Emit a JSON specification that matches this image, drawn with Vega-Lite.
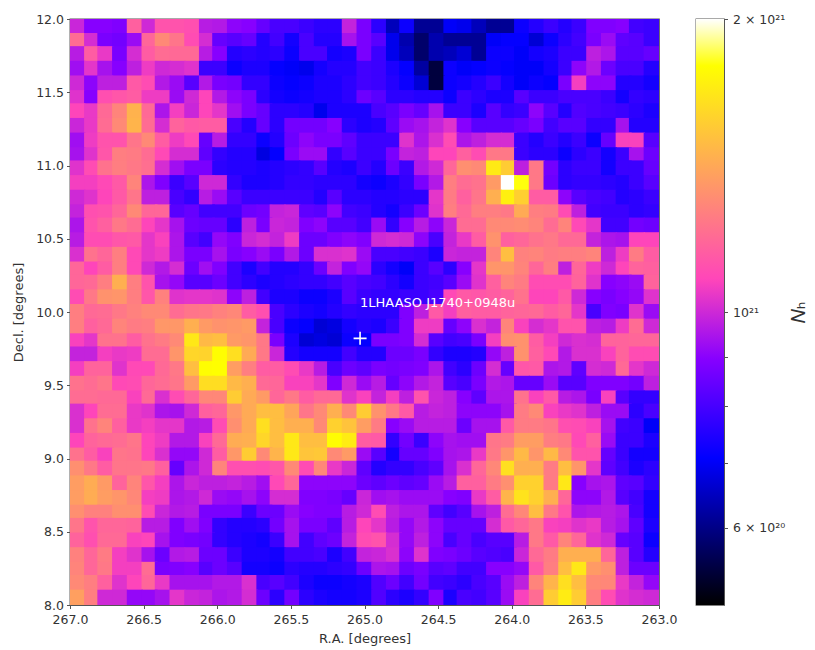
{"$schema":"https://vega.github.io/schema/vega-lite/v6.json","padding":{"left":12,"top":12,"right":0,"bottom":0},"background":"white","spacing":17,"config":{"font":"DejaVu Sans","view":{"stroke":"#555","strokeWidth":1.3},"axis":{"labelFont":"DejaVu Sans","titleFont":"DejaVu Sans","labelFontSize":12.5,"titleFontSize":13,"labelColor":"#333","titleColor":"#333","tickColor":"#555","domainColor":"#555","tickSize":3.5,"grid":false,"titleFontWeight":"normal","labelFlush":false,"labelOverlap":false}},"hconcat":[{"width":589,"height":586,"layer":[{"data":{"values":[
{"ra":266.95,"de":11.95,"n":9.8},{"ra":266.85,"de":11.95,"n":8.7},{"ra":266.76,"de":11.95,"n":8.7},{"ra":266.66,"de":11.95,"n":8.6},{"ra":266.56,"de":11.95,"n":11.6},{"ra":266.46,"de":11.95,"n":9.9},{"ra":266.37,"de":11.95,"n":11.2},{"ra":266.27,"de":11.95,"n":11.2},{"ra":266.17,"de":11.95,"n":11.1},{"ra":266.07,"de":11.95,"n":9.5},{"ra":265.98,"de":11.95,"n":9.4},{"ra":265.88,"de":11.95,"n":8.8},{"ra":265.78,"de":11.95,"n":8.7},{"ra":265.68,"de":11.95,"n":8.2},{"ra":265.59,"de":11.95,"n":7.8},{"ra":265.49,"de":11.95,"n":7.8},{"ra":265.39,"de":11.95,"n":7.6},{"ra":265.29,"de":11.95,"n":7.4},{"ra":265.2,"de":11.95,"n":7.4},{"ra":265.1,"de":11.95,"n":9.7},{"ra":265,"de":11.95,"n":8.5},{"ra":264.9,"de":11.95,"n":7.4},{"ra":264.8,"de":11.95,"n":6.3},{"ra":264.71,"de":11.95,"n":7},{"ra":264.61,"de":11.95,"n":6},{"ra":264.51,"de":11.95,"n":6},{"ra":264.41,"de":11.95,"n":6.8},{"ra":264.32,"de":11.95,"n":6.7},{"ra":264.22,"de":11.95,"n":6.3},{"ra":264.12,"de":11.95,"n":6},{"ra":264.02,"de":11.95,"n":6},{"ra":263.93,"de":11.95,"n":7},{"ra":263.83,"de":11.95,"n":7.3},{"ra":263.73,"de":11.95,"n":7.6},{"ra":263.63,"de":11.95,"n":7.3},{"ra":263.54,"de":11.95,"n":7.6},{"ra":263.44,"de":11.95,"n":8.6},{"ra":263.34,"de":11.95,"n":8.6},{"ra":263.24,"de":11.95,"n":8.7},{"ra":263.15,"de":11.95,"n":7.7},{"ra":263.05,"de":11.95,"n":7.6},
{"ra":266.95,"de":11.85,"n":12},{"ra":266.85,"de":11.85,"n":10},{"ra":266.76,"de":11.85,"n":8.5},{"ra":266.66,"de":11.85,"n":8.4},{"ra":266.56,"de":11.85,"n":9},{"ra":266.46,"de":11.85,"n":11.8},{"ra":266.37,"de":11.85,"n":13},{"ra":266.27,"de":11.85,"n":12.3},{"ra":266.17,"de":11.85,"n":11},{"ra":266.07,"de":11.85,"n":10},{"ra":265.98,"de":11.85,"n":8.2},{"ra":265.88,"de":11.85,"n":8},{"ra":265.78,"de":11.85,"n":8.2},{"ra":265.68,"de":11.85,"n":7.3},{"ra":265.59,"de":11.85,"n":7.7},{"ra":265.49,"de":11.85,"n":7.1},{"ra":265.39,"de":11.85,"n":7.8},{"ra":265.29,"de":11.85,"n":7.3},{"ra":265.2,"de":11.85,"n":7.3},{"ra":265.1,"de":11.85,"n":9.2},{"ra":265,"de":11.85,"n":8.5},{"ra":264.9,"de":11.85,"n":8},{"ra":264.8,"de":11.85,"n":6.7},{"ra":264.71,"de":11.85,"n":6.2},{"ra":264.61,"de":11.85,"n":5.7},{"ra":264.51,"de":11.85,"n":6.2},{"ra":264.41,"de":11.85,"n":6},{"ra":264.32,"de":11.85,"n":6},{"ra":264.22,"de":11.85,"n":6},{"ra":264.12,"de":11.85,"n":6.8},{"ra":264.02,"de":11.85,"n":6.9},{"ra":263.93,"de":11.85,"n":6.9},{"ra":263.83,"de":11.85,"n":6.5},{"ra":263.73,"de":11.85,"n":7},{"ra":263.63,"de":11.85,"n":7.4},{"ra":263.54,"de":11.85,"n":7.7},{"ra":263.44,"de":11.85,"n":8.5},{"ra":263.34,"de":11.85,"n":9},{"ra":263.24,"de":11.85,"n":8.1},{"ra":263.15,"de":11.85,"n":8},{"ra":263.05,"de":11.85,"n":7.6},
{"ra":266.95,"de":11.76,"n":9.5},{"ra":266.85,"de":11.76,"n":11.5},{"ra":266.76,"de":11.76,"n":10.4},{"ra":266.66,"de":11.76,"n":8.5},{"ra":266.56,"de":11.76,"n":10},{"ra":266.46,"de":11.76,"n":11.5},{"ra":266.37,"de":11.76,"n":12},{"ra":266.27,"de":11.76,"n":11.9},{"ra":266.17,"de":11.76,"n":11.9},{"ra":266.07,"de":11.76,"n":9.5},{"ra":265.98,"de":11.76,"n":8.7},{"ra":265.88,"de":11.76,"n":7.3},{"ra":265.78,"de":11.76,"n":7.4},{"ra":265.68,"de":11.76,"n":7.3},{"ra":265.59,"de":11.76,"n":7.4},{"ra":265.49,"de":11.76,"n":7},{"ra":265.39,"de":11.76,"n":7.8},{"ra":265.29,"de":11.76,"n":7.8},{"ra":265.2,"de":11.76,"n":7.1},{"ra":265.1,"de":11.76,"n":7.2},{"ra":265,"de":11.76,"n":8.5},{"ra":264.9,"de":11.76,"n":7.6},{"ra":264.8,"de":11.76,"n":6.7},{"ra":264.71,"de":11.76,"n":6.3},{"ra":264.61,"de":11.76,"n":5.7},{"ra":264.51,"de":11.76,"n":6.2},{"ra":264.41,"de":11.76,"n":6.3},{"ra":264.32,"de":11.76,"n":6.5},{"ra":264.22,"de":11.76,"n":6},{"ra":264.12,"de":11.76,"n":7},{"ra":264.02,"de":11.76,"n":7},{"ra":263.93,"de":11.76,"n":6.8},{"ra":263.83,"de":11.76,"n":7.1},{"ra":263.73,"de":11.76,"n":7.2},{"ra":263.63,"de":11.76,"n":7.6},{"ra":263.54,"de":11.76,"n":7.6},{"ra":263.44,"de":11.76,"n":9.6},{"ra":263.34,"de":11.76,"n":9.3},{"ra":263.24,"de":11.76,"n":8},{"ra":263.15,"de":11.76,"n":8},{"ra":263.05,"de":11.76,"n":8.2},
{"ra":266.95,"de":11.66,"n":9.1},{"ra":266.85,"de":11.66,"n":10.3},{"ra":266.76,"de":11.66,"n":9.2},{"ra":266.66,"de":11.66,"n":8.7},{"ra":266.56,"de":11.66,"n":9.6},{"ra":266.46,"de":11.66,"n":10.5},{"ra":266.37,"de":11.66,"n":9.9},{"ra":266.27,"de":11.66,"n":10},{"ra":266.17,"de":11.66,"n":10.2},{"ra":266.07,"de":11.66,"n":7.6},{"ra":265.98,"de":11.66,"n":7.6},{"ra":265.88,"de":11.66,"n":7},{"ra":265.78,"de":11.66,"n":7.2},{"ra":265.68,"de":11.66,"n":7.2},{"ra":265.59,"de":11.66,"n":6.9},{"ra":265.49,"de":11.66,"n":6.8},{"ra":265.39,"de":11.66,"n":6.7},{"ra":265.29,"de":11.66,"n":7.1},{"ra":265.2,"de":11.66,"n":7.3},{"ra":265.1,"de":11.66,"n":7.3},{"ra":265,"de":11.66,"n":7.7},{"ra":264.9,"de":11.66,"n":7.6},{"ra":264.8,"de":11.66,"n":7.2},{"ra":264.71,"de":11.66,"n":6.9},{"ra":264.61,"de":11.66,"n":6.1},{"ra":264.51,"de":11.66,"n":5.4},{"ra":264.41,"de":11.66,"n":7},{"ra":264.32,"de":11.66,"n":6.8},{"ra":264.22,"de":11.66,"n":6.9},{"ra":264.12,"de":11.66,"n":7},{"ra":264.02,"de":11.66,"n":6.9},{"ra":263.93,"de":11.66,"n":6.8},{"ra":263.83,"de":11.66,"n":6.8},{"ra":263.73,"de":11.66,"n":7.1},{"ra":263.63,"de":11.66,"n":7.6},{"ra":263.54,"de":11.66,"n":8.8},{"ra":263.44,"de":11.66,"n":9.4},{"ra":263.34,"de":11.66,"n":8.3},{"ra":263.24,"de":11.66,"n":7.8},{"ra":263.15,"de":11.66,"n":7.8},{"ra":263.05,"de":11.66,"n":7.3},
{"ra":266.95,"de":11.56,"n":9.9},{"ra":266.85,"de":11.56,"n":8.8},{"ra":266.76,"de":11.56,"n":9.6},{"ra":266.66,"de":11.56,"n":9.6},{"ra":266.56,"de":11.56,"n":11.4},{"ra":266.46,"de":11.56,"n":11},{"ra":266.37,"de":11.56,"n":9.4},{"ra":266.27,"de":11.56,"n":9},{"ra":266.17,"de":11.56,"n":8},{"ra":266.07,"de":11.56,"n":9.4},{"ra":265.98,"de":11.56,"n":8.5},{"ra":265.88,"de":11.56,"n":8.4},{"ra":265.78,"de":11.56,"n":7.5},{"ra":265.68,"de":11.56,"n":7.5},{"ra":265.59,"de":11.56,"n":7},{"ra":265.49,"de":11.56,"n":6.9},{"ra":265.39,"de":11.56,"n":7},{"ra":265.29,"de":11.56,"n":7.2},{"ra":265.2,"de":11.56,"n":7.2},{"ra":265.1,"de":11.56,"n":7.4},{"ra":265,"de":11.56,"n":7.7},{"ra":264.9,"de":11.56,"n":7.6},{"ra":264.8,"de":11.56,"n":7.3},{"ra":264.71,"de":11.56,"n":7},{"ra":264.61,"de":11.56,"n":6.5},{"ra":264.51,"de":11.56,"n":5.4},{"ra":264.41,"de":11.56,"n":7},{"ra":264.32,"de":11.56,"n":7.1},{"ra":264.22,"de":11.56,"n":7.3},{"ra":264.12,"de":11.56,"n":7.6},{"ra":264.02,"de":11.56,"n":7.1},{"ra":263.93,"de":11.56,"n":6.8},{"ra":263.83,"de":11.56,"n":7},{"ra":263.73,"de":11.56,"n":6.9},{"ra":263.63,"de":11.56,"n":8.5},{"ra":263.54,"de":11.56,"n":10.6},{"ra":263.44,"de":11.56,"n":8.8},{"ra":263.34,"de":11.56,"n":8.8},{"ra":263.24,"de":11.56,"n":7.3},{"ra":263.15,"de":11.56,"n":7.3},{"ra":263.05,"de":11.56,"n":7.1},
{"ra":266.95,"de":11.46,"n":10.2},{"ra":266.85,"de":11.46,"n":8.7},{"ra":266.76,"de":11.46,"n":11.1},{"ra":266.66,"de":11.46,"n":11.3},{"ra":266.56,"de":11.46,"n":11.5},{"ra":266.46,"de":11.46,"n":10.5},{"ra":266.37,"de":11.46,"n":10.5},{"ra":266.27,"de":11.46,"n":9},{"ra":266.17,"de":11.46,"n":9.9},{"ra":266.07,"de":11.46,"n":10.8},{"ra":265.98,"de":11.46,"n":9.4},{"ra":265.88,"de":11.46,"n":8.8},{"ra":265.78,"de":11.46,"n":8.5},{"ra":265.68,"de":11.46,"n":7.4},{"ra":265.59,"de":11.46,"n":7.1},{"ra":265.49,"de":11.46,"n":7},{"ra":265.39,"de":11.46,"n":7.1},{"ra":265.29,"de":11.46,"n":7.2},{"ra":265.2,"de":11.46,"n":7.2},{"ra":265.1,"de":11.46,"n":7.4},{"ra":265,"de":11.46,"n":8.3},{"ra":264.9,"de":11.46,"n":8},{"ra":264.8,"de":11.46,"n":7.4},{"ra":264.71,"de":11.46,"n":7.4},{"ra":264.61,"de":11.46,"n":7.3},{"ra":264.51,"de":11.46,"n":7.3},{"ra":264.41,"de":11.46,"n":7},{"ra":264.32,"de":11.46,"n":7.6},{"ra":264.22,"de":11.46,"n":7.4},{"ra":264.12,"de":11.46,"n":7.2},{"ra":264.02,"de":11.46,"n":7.2},{"ra":263.93,"de":11.46,"n":8},{"ra":263.83,"de":11.46,"n":7.6},{"ra":263.73,"de":11.46,"n":7.6},{"ra":263.63,"de":11.46,"n":7.8},{"ra":263.54,"de":11.46,"n":7.8},{"ra":263.44,"de":11.46,"n":7.8},{"ra":263.34,"de":11.46,"n":7.6},{"ra":263.24,"de":11.46,"n":7.1},{"ra":263.15,"de":11.46,"n":7.5},{"ra":263.05,"de":11.46,"n":7.4},
{"ra":266.95,"de":11.37,"n":10.8},{"ra":266.85,"de":11.37,"n":10.4},{"ra":266.76,"de":11.37,"n":11.9},{"ra":266.66,"de":11.37,"n":12.8},{"ra":266.56,"de":11.37,"n":14.5},{"ra":266.46,"de":11.37,"n":11.9},{"ra":266.37,"de":11.37,"n":9.3},{"ra":266.27,"de":11.37,"n":10.6},{"ra":266.17,"de":11.37,"n":9.8},{"ra":266.07,"de":11.37,"n":10.8},{"ra":265.98,"de":11.37,"n":10.3},{"ra":265.88,"de":11.37,"n":9.1},{"ra":265.78,"de":11.37,"n":8.5},{"ra":265.68,"de":11.37,"n":8.2},{"ra":265.59,"de":11.37,"n":7.4},{"ra":265.49,"de":11.37,"n":7.4},{"ra":265.39,"de":11.37,"n":7.3},{"ra":265.29,"de":11.37,"n":6.7},{"ra":265.2,"de":11.37,"n":7.2},{"ra":265.1,"de":11.37,"n":7.2},{"ra":265,"de":11.37,"n":7.2},{"ra":264.9,"de":11.37,"n":7.8},{"ra":264.8,"de":11.37,"n":8},{"ra":264.71,"de":11.37,"n":8.5},{"ra":264.61,"de":11.37,"n":8.2},{"ra":264.51,"de":11.37,"n":9.2},{"ra":264.41,"de":11.37,"n":7.6},{"ra":264.32,"de":11.37,"n":7.6},{"ra":264.22,"de":11.37,"n":7.2},{"ra":264.12,"de":11.37,"n":8},{"ra":264.02,"de":11.37,"n":7.5},{"ra":263.93,"de":11.37,"n":7.6},{"ra":263.83,"de":11.37,"n":8.8},{"ra":263.73,"de":11.37,"n":8},{"ra":263.63,"de":11.37,"n":7.3},{"ra":263.54,"de":11.37,"n":7.9},{"ra":263.44,"de":11.37,"n":7.8},{"ra":263.34,"de":11.37,"n":7.7},{"ra":263.24,"de":11.37,"n":7.6},{"ra":263.15,"de":11.37,"n":7.4},{"ra":263.05,"de":11.37,"n":7.2},
{"ra":266.95,"de":11.27,"n":9.8},{"ra":266.85,"de":11.27,"n":10.4},{"ra":266.76,"de":11.27,"n":12},{"ra":266.66,"de":11.27,"n":13},{"ra":266.56,"de":11.27,"n":14.6},{"ra":266.46,"de":11.27,"n":12},{"ra":266.37,"de":11.27,"n":10},{"ra":266.27,"de":11.27,"n":11.7},{"ra":266.17,"de":11.27,"n":11.4},{"ra":266.07,"de":11.27,"n":11.5},{"ra":265.98,"de":11.27,"n":11.5},{"ra":265.88,"de":11.27,"n":7.8},{"ra":265.78,"de":11.27,"n":7.3},{"ra":265.68,"de":11.27,"n":8.2},{"ra":265.59,"de":11.27,"n":7.4},{"ra":265.49,"de":11.27,"n":8.4},{"ra":265.39,"de":11.27,"n":8.4},{"ra":265.29,"de":11.27,"n":8.4},{"ra":265.2,"de":11.27,"n":8.7},{"ra":265.1,"de":11.27,"n":7.4},{"ra":265,"de":11.27,"n":7.2},{"ra":264.9,"de":11.27,"n":7.3},{"ra":264.8,"de":11.27,"n":8.1},{"ra":264.71,"de":11.27,"n":9},{"ra":264.61,"de":11.27,"n":9.2},{"ra":264.51,"de":11.27,"n":9.7},{"ra":264.41,"de":11.27,"n":10.2},{"ra":264.32,"de":11.27,"n":8.7},{"ra":264.22,"de":11.27,"n":8},{"ra":264.12,"de":11.27,"n":8},{"ra":264.02,"de":11.27,"n":8},{"ra":263.93,"de":11.27,"n":8.2},{"ra":263.83,"de":11.27,"n":8.5},{"ra":263.73,"de":11.27,"n":7.7},{"ra":263.63,"de":11.27,"n":8},{"ra":263.54,"de":11.27,"n":8},{"ra":263.44,"de":11.27,"n":7.5},{"ra":263.34,"de":11.27,"n":7.5},{"ra":263.24,"de":11.27,"n":9.2},{"ra":263.15,"de":11.27,"n":7.3},{"ra":263.05,"de":11.27,"n":7.3},
{"ra":266.95,"de":11.17,"n":9.1},{"ra":266.85,"de":11.17,"n":10.5},{"ra":266.76,"de":11.17,"n":11.2},{"ra":266.66,"de":11.17,"n":11.2},{"ra":266.56,"de":11.17,"n":12.3},{"ra":266.46,"de":11.17,"n":13},{"ra":266.37,"de":11.17,"n":11.5},{"ra":266.27,"de":11.17,"n":10.5},{"ra":266.17,"de":11.17,"n":10.9},{"ra":266.07,"de":11.17,"n":8.2},{"ra":265.98,"de":11.17,"n":9.5},{"ra":265.88,"de":11.17,"n":7.5},{"ra":265.78,"de":11.17,"n":7.5},{"ra":265.68,"de":11.17,"n":7},{"ra":265.59,"de":11.17,"n":7.3},{"ra":265.49,"de":11.17,"n":8.3},{"ra":265.39,"de":11.17,"n":8.8},{"ra":265.29,"de":11.17,"n":8.5},{"ra":265.2,"de":11.17,"n":8.5},{"ra":265.1,"de":11.17,"n":8.1},{"ra":265,"de":11.17,"n":7.6},{"ra":264.9,"de":11.17,"n":7.6},{"ra":264.8,"de":11.17,"n":7.6},{"ra":264.71,"de":11.17,"n":10.2},{"ra":264.61,"de":11.17,"n":9.3},{"ra":264.51,"de":11.17,"n":10.1},{"ra":264.41,"de":11.17,"n":11},{"ra":264.32,"de":11.17,"n":9.3},{"ra":264.22,"de":11.17,"n":9.6},{"ra":264.12,"de":11.17,"n":10},{"ra":264.02,"de":11.17,"n":10},{"ra":263.93,"de":11.17,"n":7.6},{"ra":263.83,"de":11.17,"n":7.3},{"ra":263.73,"de":11.17,"n":7.6},{"ra":263.63,"de":11.17,"n":7.3},{"ra":263.54,"de":11.17,"n":7.6},{"ra":263.44,"de":11.17,"n":7},{"ra":263.34,"de":11.17,"n":8.2},{"ra":263.24,"de":11.17,"n":10.7},{"ra":263.15,"de":11.17,"n":10.7},{"ra":263.05,"de":11.17,"n":8},
{"ra":266.95,"de":11.07,"n":9.2},{"ra":266.85,"de":11.07,"n":10.2},{"ra":266.76,"de":11.07,"n":11.3},{"ra":266.66,"de":11.07,"n":12.6},{"ra":266.56,"de":11.07,"n":12.5},{"ra":266.46,"de":11.07,"n":12},{"ra":266.37,"de":11.07,"n":10.9},{"ra":266.27,"de":11.07,"n":10},{"ra":266.17,"de":11.07,"n":10},{"ra":266.07,"de":11.07,"n":8.1},{"ra":265.98,"de":11.07,"n":7.5},{"ra":265.88,"de":11.07,"n":7.3},{"ra":265.78,"de":11.07,"n":7.3},{"ra":265.68,"de":11.07,"n":6.6},{"ra":265.59,"de":11.07,"n":6.9},{"ra":265.49,"de":11.07,"n":8.5},{"ra":265.39,"de":11.07,"n":9},{"ra":265.29,"de":11.07,"n":9},{"ra":265.2,"de":11.07,"n":7.5},{"ra":265.1,"de":11.07,"n":8},{"ra":265,"de":11.07,"n":7.6},{"ra":264.9,"de":11.07,"n":7.6},{"ra":264.8,"de":11.07,"n":8.5},{"ra":264.71,"de":11.07,"n":9.7},{"ra":264.61,"de":11.07,"n":9.6},{"ra":264.51,"de":11.07,"n":10.8},{"ra":264.41,"de":11.07,"n":10.8},{"ra":264.32,"de":11.07,"n":11.6},{"ra":264.22,"de":11.07,"n":11},{"ra":264.12,"de":11.07,"n":12.4},{"ra":264.02,"de":11.07,"n":12.4},{"ra":263.93,"de":11.07,"n":7.6},{"ra":263.83,"de":11.07,"n":7.4},{"ra":263.73,"de":11.07,"n":7.4},{"ra":263.63,"de":11.07,"n":7},{"ra":263.54,"de":11.07,"n":7.4},{"ra":263.44,"de":11.07,"n":7.6},{"ra":263.34,"de":11.07,"n":7.1},{"ra":263.24,"de":11.07,"n":7.6},{"ra":263.15,"de":11.07,"n":9.2},{"ra":263.05,"de":11.07,"n":8.3},
{"ra":266.95,"de":10.98,"n":10.2},{"ra":266.85,"de":10.98,"n":11},{"ra":266.76,"de":10.98,"n":12.2},{"ra":266.66,"de":10.98,"n":12.6},{"ra":266.56,"de":10.98,"n":12.4},{"ra":266.46,"de":10.98,"n":12.1},{"ra":266.37,"de":10.98,"n":10},{"ra":266.27,"de":10.98,"n":9.1},{"ra":266.17,"de":10.98,"n":8.5},{"ra":266.07,"de":10.98,"n":8.5},{"ra":265.98,"de":10.98,"n":7.4},{"ra":265.88,"de":10.98,"n":7.3},{"ra":265.78,"de":10.98,"n":7.3},{"ra":265.68,"de":10.98,"n":7.2},{"ra":265.59,"de":10.98,"n":7.3},{"ra":265.49,"de":10.98,"n":7.4},{"ra":265.39,"de":10.98,"n":7.5},{"ra":265.29,"de":10.98,"n":8},{"ra":265.2,"de":10.98,"n":7.3},{"ra":265.1,"de":10.98,"n":7.2},{"ra":265,"de":10.98,"n":7.6},{"ra":264.9,"de":10.98,"n":7.3},{"ra":264.8,"de":10.98,"n":8.3},{"ra":264.71,"de":10.98,"n":7.6},{"ra":264.61,"de":10.98,"n":9.4},{"ra":264.51,"de":10.98,"n":9.9},{"ra":264.41,"de":10.98,"n":11.8},{"ra":264.32,"de":10.98,"n":13.2},{"ra":264.22,"de":10.98,"n":13},{"ra":264.12,"de":10.98,"n":16.9},{"ra":264.02,"de":10.98,"n":15.6},{"ra":263.93,"de":10.98,"n":9.6},{"ra":263.83,"de":10.98,"n":12.4},{"ra":263.73,"de":10.98,"n":8.4},{"ra":263.63,"de":10.98,"n":7.4},{"ra":263.54,"de":10.98,"n":7.6},{"ra":263.44,"de":10.98,"n":7.6},{"ra":263.34,"de":10.98,"n":7.1},{"ra":263.24,"de":10.98,"n":7.6},{"ra":263.15,"de":10.98,"n":7.6},{"ra":263.05,"de":10.98,"n":8.2},
{"ra":266.95,"de":10.88,"n":10.6},{"ra":266.85,"de":10.88,"n":10.6},{"ra":266.76,"de":10.88,"n":10.9},{"ra":266.66,"de":10.88,"n":11.4},{"ra":266.56,"de":10.88,"n":12.8},{"ra":266.46,"de":10.88,"n":9.3},{"ra":266.37,"de":10.88,"n":8.6},{"ra":266.27,"de":10.88,"n":7.6},{"ra":266.17,"de":10.88,"n":8},{"ra":266.07,"de":10.88,"n":9.9},{"ra":265.98,"de":10.88,"n":9.9},{"ra":265.88,"de":10.88,"n":7.5},{"ra":265.78,"de":10.88,"n":7.2},{"ra":265.68,"de":10.88,"n":7.2},{"ra":265.59,"de":10.88,"n":7.3},{"ra":265.49,"de":10.88,"n":7.5},{"ra":265.39,"de":10.88,"n":7.5},{"ra":265.29,"de":10.88,"n":7.4},{"ra":265.2,"de":10.88,"n":7.4},{"ra":265.1,"de":10.88,"n":7.4},{"ra":265,"de":10.88,"n":7.1},{"ra":264.9,"de":10.88,"n":7},{"ra":264.8,"de":10.88,"n":7.2},{"ra":264.71,"de":10.88,"n":7.5},{"ra":264.61,"de":10.88,"n":8.5},{"ra":264.51,"de":10.88,"n":9.4},{"ra":264.41,"de":10.88,"n":12.6},{"ra":264.32,"de":10.88,"n":12},{"ra":264.22,"de":10.88,"n":12.2},{"ra":264.12,"de":10.88,"n":13.6},{"ra":264.02,"de":10.88,"n":20},{"ra":263.93,"de":10.88,"n":18},{"ra":263.83,"de":10.88,"n":12.4},{"ra":263.73,"de":10.88,"n":8.3},{"ra":263.63,"de":10.88,"n":7.4},{"ra":263.54,"de":10.88,"n":7.5},{"ra":263.44,"de":10.88,"n":7.5},{"ra":263.34,"de":10.88,"n":7.4},{"ra":263.24,"de":10.88,"n":7.3},{"ra":263.15,"de":10.88,"n":7.6},{"ra":263.05,"de":10.88,"n":8},
{"ra":266.95,"de":10.78,"n":9.9},{"ra":266.85,"de":10.78,"n":10.2},{"ra":266.76,"de":10.78,"n":10.8},{"ra":266.66,"de":10.78,"n":11.4},{"ra":266.56,"de":10.78,"n":12.3},{"ra":266.46,"de":10.78,"n":9.6},{"ra":266.37,"de":10.78,"n":9.6},{"ra":266.27,"de":10.78,"n":7.8},{"ra":266.17,"de":10.78,"n":7.5},{"ra":266.07,"de":10.78,"n":9.5},{"ra":265.98,"de":10.78,"n":9},{"ra":265.88,"de":10.78,"n":8},{"ra":265.78,"de":10.78,"n":7.6},{"ra":265.68,"de":10.78,"n":7.6},{"ra":265.59,"de":10.78,"n":7.6},{"ra":265.49,"de":10.78,"n":7.6},{"ra":265.39,"de":10.78,"n":7.6},{"ra":265.29,"de":10.78,"n":7.3},{"ra":265.2,"de":10.78,"n":8},{"ra":265.1,"de":10.78,"n":7.4},{"ra":265,"de":10.78,"n":7.4},{"ra":264.9,"de":10.78,"n":7.3},{"ra":264.8,"de":10.78,"n":7.3},{"ra":264.71,"de":10.78,"n":7.4},{"ra":264.61,"de":10.78,"n":7.4},{"ra":264.51,"de":10.78,"n":10.3},{"ra":264.41,"de":10.78,"n":12.5},{"ra":264.32,"de":10.78,"n":11.6},{"ra":264.22,"de":10.78,"n":12.3},{"ra":264.12,"de":10.78,"n":14.4},{"ra":264.02,"de":10.78,"n":17.2},{"ra":263.93,"de":10.78,"n":15.7},{"ra":263.83,"de":10.78,"n":11.5},{"ra":263.73,"de":10.78,"n":11.5},{"ra":263.63,"de":10.78,"n":8.8},{"ra":263.54,"de":10.78,"n":8},{"ra":263.44,"de":10.78,"n":7.8},{"ra":263.34,"de":10.78,"n":7.7},{"ra":263.24,"de":10.78,"n":7.3},{"ra":263.15,"de":10.78,"n":7.4},{"ra":263.05,"de":10.78,"n":7.6},
{"ra":266.95,"de":10.68,"n":9.7},{"ra":266.85,"de":10.68,"n":11.1},{"ra":266.76,"de":10.68,"n":11.2},{"ra":266.66,"de":10.68,"n":11.8},{"ra":266.56,"de":10.68,"n":13},{"ra":266.46,"de":10.68,"n":11.8},{"ra":266.37,"de":10.68,"n":11.8},{"ra":266.27,"de":10.68,"n":8},{"ra":266.17,"de":10.68,"n":8.2},{"ra":266.07,"de":10.68,"n":7.7},{"ra":265.98,"de":10.68,"n":7.7},{"ra":265.88,"de":10.68,"n":7.7},{"ra":265.78,"de":10.68,"n":8.3},{"ra":265.68,"de":10.68,"n":8.4},{"ra":265.59,"de":10.68,"n":9.7},{"ra":265.49,"de":10.68,"n":9.8},{"ra":265.39,"de":10.68,"n":8.1},{"ra":265.29,"de":10.68,"n":8},{"ra":265.2,"de":10.68,"n":8.8},{"ra":265.1,"de":10.68,"n":7.7},{"ra":265,"de":10.68,"n":7.6},{"ra":264.9,"de":10.68,"n":7.3},{"ra":264.8,"de":10.68,"n":7.1},{"ra":264.71,"de":10.68,"n":7.6},{"ra":264.61,"de":10.68,"n":8.3},{"ra":264.51,"de":10.68,"n":10.2},{"ra":264.41,"de":10.68,"n":12.6},{"ra":264.32,"de":10.68,"n":11.9},{"ra":264.22,"de":10.68,"n":12.6},{"ra":264.12,"de":10.68,"n":12.6},{"ra":264.02,"de":10.68,"n":12.4},{"ra":263.93,"de":10.68,"n":14.2},{"ra":263.83,"de":10.68,"n":12.6},{"ra":263.73,"de":10.68,"n":12.5},{"ra":263.63,"de":10.68,"n":11},{"ra":263.54,"de":10.68,"n":9.6},{"ra":263.44,"de":10.68,"n":7.7},{"ra":263.34,"de":10.68,"n":7.6},{"ra":263.24,"de":10.68,"n":7.6},{"ra":263.15,"de":10.68,"n":7.4},{"ra":263.05,"de":10.68,"n":7.5},
{"ra":266.95,"de":10.59,"n":9.3},{"ra":266.85,"de":10.59,"n":11.2},{"ra":266.76,"de":10.59,"n":11.6},{"ra":266.66,"de":10.59,"n":12.4},{"ra":266.56,"de":10.59,"n":12},{"ra":266.46,"de":10.59,"n":10.8},{"ra":266.37,"de":10.59,"n":10.3},{"ra":266.27,"de":10.59,"n":9.2},{"ra":266.17,"de":10.59,"n":8.3},{"ra":266.07,"de":10.59,"n":8.2},{"ra":265.98,"de":10.59,"n":8.2},{"ra":265.88,"de":10.59,"n":7.4},{"ra":265.78,"de":10.59,"n":9.6},{"ra":265.68,"de":10.59,"n":8.5},{"ra":265.59,"de":10.59,"n":9.8},{"ra":265.49,"de":10.59,"n":9.7},{"ra":265.39,"de":10.59,"n":8.6},{"ra":265.29,"de":10.59,"n":8.8},{"ra":265.2,"de":10.59,"n":8},{"ra":265.1,"de":10.59,"n":8},{"ra":265,"de":10.59,"n":7.7},{"ra":264.9,"de":10.59,"n":9},{"ra":264.8,"de":10.59,"n":7.5},{"ra":264.71,"de":10.59,"n":8.7},{"ra":264.61,"de":10.59,"n":9.5},{"ra":264.51,"de":10.59,"n":8.8},{"ra":264.41,"de":10.59,"n":9.8},{"ra":264.32,"de":10.59,"n":12},{"ra":264.22,"de":10.59,"n":12},{"ra":264.12,"de":10.59,"n":13},{"ra":264.02,"de":10.59,"n":13},{"ra":263.93,"de":10.59,"n":13.1},{"ra":263.83,"de":10.59,"n":12.8},{"ra":263.73,"de":10.59,"n":12},{"ra":263.63,"de":10.59,"n":12.8},{"ra":263.54,"de":10.59,"n":10.9},{"ra":263.44,"de":10.59,"n":10.3},{"ra":263.34,"de":10.59,"n":7.7},{"ra":263.24,"de":10.59,"n":7.7},{"ra":263.15,"de":10.59,"n":8.4},{"ra":263.05,"de":10.59,"n":8.3},
{"ra":266.95,"de":10.49,"n":9.5},{"ra":266.85,"de":10.49,"n":11},{"ra":266.76,"de":10.49,"n":11},{"ra":266.66,"de":10.49,"n":11.3},{"ra":266.56,"de":10.49,"n":11.4},{"ra":266.46,"de":10.49,"n":10.3},{"ra":266.37,"de":10.49,"n":10.7},{"ra":266.27,"de":10.49,"n":9.3},{"ra":266.17,"de":10.49,"n":8},{"ra":266.07,"de":10.49,"n":7.7},{"ra":265.98,"de":10.49,"n":8.9},{"ra":265.88,"de":10.49,"n":8.6},{"ra":265.78,"de":10.49,"n":9.8},{"ra":265.68,"de":10.49,"n":10},{"ra":265.59,"de":10.49,"n":9.7},{"ra":265.49,"de":10.49,"n":10.5},{"ra":265.39,"de":10.49,"n":8.3},{"ra":265.29,"de":10.49,"n":8.3},{"ra":265.2,"de":10.49,"n":8.6},{"ra":265.1,"de":10.49,"n":8.8},{"ra":265,"de":10.49,"n":8.6},{"ra":264.9,"de":10.49,"n":9.9},{"ra":264.8,"de":10.49,"n":10},{"ra":264.71,"de":10.49,"n":9.9},{"ra":264.61,"de":10.49,"n":8.8},{"ra":264.51,"de":10.49,"n":7.8},{"ra":264.41,"de":10.49,"n":9.7},{"ra":264.32,"de":10.49,"n":10.4},{"ra":264.22,"de":10.49,"n":11.5},{"ra":264.12,"de":10.49,"n":13.3},{"ra":264.02,"de":10.49,"n":11.6},{"ra":263.93,"de":10.49,"n":11.8},{"ra":263.83,"de":10.49,"n":12.2},{"ra":263.73,"de":10.49,"n":12.4},{"ra":263.63,"de":10.49,"n":11.9},{"ra":263.54,"de":10.49,"n":11.9},{"ra":263.44,"de":10.49,"n":9.7},{"ra":263.34,"de":10.49,"n":9.3},{"ra":263.24,"de":10.49,"n":9.2},{"ra":263.15,"de":10.49,"n":10.8},{"ra":263.05,"de":10.49,"n":10.8},
{"ra":266.95,"de":10.39,"n":10.1},{"ra":266.85,"de":10.39,"n":12.2},{"ra":266.76,"de":10.39,"n":11.8},{"ra":266.66,"de":10.39,"n":12.6},{"ra":266.56,"de":10.39,"n":10.9},{"ra":266.46,"de":10.39,"n":10.3},{"ra":266.37,"de":10.39,"n":10.5},{"ra":266.27,"de":10.39,"n":9.3},{"ra":266.17,"de":10.39,"n":8.5},{"ra":266.07,"de":10.39,"n":8.5},{"ra":265.98,"de":10.39,"n":9.2},{"ra":265.88,"de":10.39,"n":8.5},{"ra":265.78,"de":10.39,"n":8.7},{"ra":265.68,"de":10.39,"n":9},{"ra":265.59,"de":10.39,"n":8.5},{"ra":265.49,"de":10.39,"n":9.4},{"ra":265.39,"de":10.39,"n":8.3},{"ra":265.29,"de":10.39,"n":10.1},{"ra":265.2,"de":10.39,"n":10.1},{"ra":265.1,"de":10.39,"n":10.2},{"ra":265,"de":10.39,"n":9},{"ra":264.9,"de":10.39,"n":7.8},{"ra":264.8,"de":10.39,"n":7.8},{"ra":264.71,"de":10.39,"n":7.7},{"ra":264.61,"de":10.39,"n":7.6},{"ra":264.51,"de":10.39,"n":7.2},{"ra":264.41,"de":10.39,"n":9.8},{"ra":264.32,"de":10.39,"n":9.7},{"ra":264.22,"de":10.39,"n":9.7},{"ra":264.12,"de":10.39,"n":12.8},{"ra":264.02,"de":10.39,"n":15},{"ra":263.93,"de":10.39,"n":12.7},{"ra":263.83,"de":10.39,"n":12.8},{"ra":263.73,"de":10.39,"n":12.5},{"ra":263.63,"de":10.39,"n":12.6},{"ra":263.54,"de":10.39,"n":12.6},{"ra":263.44,"de":10.39,"n":12.8},{"ra":263.34,"de":10.39,"n":9.6},{"ra":263.24,"de":10.39,"n":10.5},{"ra":263.15,"de":10.39,"n":12.5},{"ra":263.05,"de":10.39,"n":11.5},
{"ra":266.95,"de":10.29,"n":11.8},{"ra":266.85,"de":10.29,"n":10.8},{"ra":266.76,"de":10.29,"n":11.5},{"ra":266.66,"de":10.29,"n":12.6},{"ra":266.56,"de":10.29,"n":10.9},{"ra":266.46,"de":10.29,"n":9.9},{"ra":266.37,"de":10.29,"n":9.4},{"ra":266.27,"de":10.29,"n":10},{"ra":266.17,"de":10.29,"n":8.3},{"ra":266.07,"de":10.29,"n":9.1},{"ra":265.98,"de":10.29,"n":8.6},{"ra":265.88,"de":10.29,"n":7.7},{"ra":265.78,"de":10.29,"n":7.2},{"ra":265.68,"de":10.29,"n":7.7},{"ra":265.59,"de":10.29,"n":7.3},{"ra":265.49,"de":10.29,"n":7.3},{"ra":265.39,"de":10.29,"n":7.5},{"ra":265.29,"de":10.29,"n":8.3},{"ra":265.2,"de":10.29,"n":9.7},{"ra":265.1,"de":10.29,"n":8.6},{"ra":265,"de":10.29,"n":8.9},{"ra":264.9,"de":10.29,"n":7.4},{"ra":264.8,"de":10.29,"n":7.1},{"ra":264.71,"de":10.29,"n":6.8},{"ra":264.61,"de":10.29,"n":7.6},{"ra":264.51,"de":10.29,"n":8},{"ra":264.41,"de":10.29,"n":7.4},{"ra":264.32,"de":10.29,"n":8.7},{"ra":264.22,"de":10.29,"n":10.3},{"ra":264.12,"de":10.29,"n":13.4},{"ra":264.02,"de":10.29,"n":13.4},{"ra":263.93,"de":10.29,"n":12.8},{"ra":263.83,"de":10.29,"n":11.8},{"ra":263.73,"de":10.29,"n":12.6},{"ra":263.63,"de":10.29,"n":9.6},{"ra":263.54,"de":10.29,"n":11.8},{"ra":263.44,"de":10.29,"n":10.5},{"ra":263.34,"de":10.29,"n":9.9},{"ra":263.24,"de":10.29,"n":10.8},{"ra":263.15,"de":10.29,"n":11.7},{"ra":263.05,"de":10.29,"n":11.6},
{"ra":266.95,"de":10.2,"n":11.8},{"ra":266.85,"de":10.2,"n":11.9},{"ra":266.76,"de":10.2,"n":12.6},{"ra":266.66,"de":10.2,"n":14.4},{"ra":266.56,"de":10.2,"n":12.6},{"ra":266.46,"de":10.2,"n":11.2},{"ra":266.37,"de":10.2,"n":9.2},{"ra":266.27,"de":10.2,"n":8.9},{"ra":266.17,"de":10.2,"n":8},{"ra":266.07,"de":10.2,"n":8},{"ra":265.98,"de":10.2,"n":8.3},{"ra":265.88,"de":10.2,"n":7.7},{"ra":265.78,"de":10.2,"n":7.4},{"ra":265.68,"de":10.2,"n":7.2},{"ra":265.59,"de":10.2,"n":7.3},{"ra":265.49,"de":10.2,"n":7.4},{"ra":265.39,"de":10.2,"n":7.5},{"ra":265.29,"de":10.2,"n":7.5},{"ra":265.2,"de":10.2,"n":7.7},{"ra":265.1,"de":10.2,"n":8},{"ra":265,"de":10.2,"n":7.8},{"ra":264.9,"de":10.2,"n":7.7},{"ra":264.8,"de":10.2,"n":7.4},{"ra":264.71,"de":10.2,"n":7.1},{"ra":264.61,"de":10.2,"n":7.6},{"ra":264.51,"de":10.2,"n":7.7},{"ra":264.41,"de":10.2,"n":8},{"ra":264.32,"de":10.2,"n":9},{"ra":264.22,"de":10.2,"n":10.2},{"ra":264.12,"de":10.2,"n":11.6},{"ra":264.02,"de":10.2,"n":12.8},{"ra":263.93,"de":10.2,"n":12.5},{"ra":263.83,"de":10.2,"n":11},{"ra":263.73,"de":10.2,"n":11},{"ra":263.63,"de":10.2,"n":11},{"ra":263.54,"de":10.2,"n":11.7},{"ra":263.44,"de":10.2,"n":10.2},{"ra":263.34,"de":10.2,"n":8.7},{"ra":263.24,"de":10.2,"n":8.8},{"ra":263.15,"de":10.2,"n":9},{"ra":263.05,"de":10.2,"n":11.7},
{"ra":266.95,"de":10.1,"n":11},{"ra":266.85,"de":10.1,"n":12.4},{"ra":266.76,"de":10.1,"n":13.3},{"ra":266.66,"de":10.1,"n":13.4},{"ra":266.56,"de":10.1,"n":12.6},{"ra":266.46,"de":10.1,"n":11.3},{"ra":266.37,"de":10.1,"n":12.7},{"ra":266.27,"de":10.1,"n":10.2},{"ra":266.17,"de":10.1,"n":10.3},{"ra":266.07,"de":10.1,"n":10.3},{"ra":265.98,"de":10.1,"n":10.2},{"ra":265.88,"de":10.1,"n":8.8},{"ra":265.78,"de":10.1,"n":9.6},{"ra":265.68,"de":10.1,"n":7.7},{"ra":265.59,"de":10.1,"n":7.2},{"ra":265.49,"de":10.1,"n":7.2},{"ra":265.39,"de":10.1,"n":7},{"ra":265.29,"de":10.1,"n":7},{"ra":265.2,"de":10.1,"n":7.2},{"ra":265.1,"de":10.1,"n":8},{"ra":265,"de":10.1,"n":7.6},{"ra":264.9,"de":10.1,"n":7.5},{"ra":264.8,"de":10.1,"n":7.5},{"ra":264.71,"de":10.1,"n":7.6},{"ra":264.61,"de":10.1,"n":7.6},{"ra":264.51,"de":10.1,"n":7.8},{"ra":264.41,"de":10.1,"n":10.9},{"ra":264.32,"de":10.1,"n":11.4},{"ra":264.22,"de":10.1,"n":11.3},{"ra":264.12,"de":10.1,"n":11.5},{"ra":264.02,"de":10.1,"n":11.7},{"ra":263.93,"de":10.1,"n":12.2},{"ra":263.83,"de":10.1,"n":10.8},{"ra":263.73,"de":10.1,"n":10.8},{"ra":263.63,"de":10.1,"n":11.4},{"ra":263.54,"de":10.1,"n":9.9},{"ra":263.44,"de":10.1,"n":8.7},{"ra":263.34,"de":10.1,"n":8.5},{"ra":263.24,"de":10.1,"n":8.7},{"ra":263.15,"de":10.1,"n":8.9},{"ra":263.05,"de":10.1,"n":10.2},
{"ra":266.95,"de":10,"n":12.6},{"ra":266.85,"de":10,"n":11.9},{"ra":266.76,"de":10,"n":12},{"ra":266.66,"de":10,"n":12.4},{"ra":266.56,"de":10,"n":12.7},{"ra":266.46,"de":10,"n":13},{"ra":266.37,"de":10,"n":13},{"ra":266.27,"de":10,"n":12},{"ra":266.17,"de":10,"n":12.3},{"ra":266.07,"de":10,"n":12.4},{"ra":265.98,"de":10,"n":12.7},{"ra":265.88,"de":10,"n":12.9},{"ra":265.78,"de":10,"n":11.5},{"ra":265.68,"de":10,"n":11.1},{"ra":265.59,"de":10,"n":7.8},{"ra":265.49,"de":10,"n":7.4},{"ra":265.39,"de":10,"n":7.2},{"ra":265.29,"de":10,"n":7.1},{"ra":265.2,"de":10,"n":7.3},{"ra":265.1,"de":10,"n":7.5},{"ra":265,"de":10,"n":7.4},{"ra":264.9,"de":10,"n":7.4},{"ra":264.8,"de":10,"n":7.4},{"ra":264.71,"de":10,"n":8.6},{"ra":264.61,"de":10,"n":9.6},{"ra":264.51,"de":10,"n":11.4},{"ra":264.41,"de":10,"n":10.6},{"ra":264.32,"de":10,"n":11.6},{"ra":264.22,"de":10,"n":11.5},{"ra":264.12,"de":10,"n":11.5},{"ra":264.02,"de":10,"n":11.7},{"ra":263.93,"de":10,"n":11.8},{"ra":263.83,"de":10,"n":11.9},{"ra":263.73,"de":10,"n":11.5},{"ra":263.63,"de":10,"n":11.8},{"ra":263.54,"de":10,"n":10.3},{"ra":263.44,"de":10,"n":7.8},{"ra":263.34,"de":10,"n":8.6},{"ra":263.24,"de":10,"n":8.5},{"ra":263.15,"de":10,"n":10.2},{"ra":263.05,"de":10,"n":9},
{"ra":266.95,"de":9.9,"n":12.6},{"ra":266.85,"de":9.9,"n":11.6},{"ra":266.76,"de":9.9,"n":11.9},{"ra":266.66,"de":9.9,"n":12.8},{"ra":266.56,"de":9.9,"n":12.5},{"ra":266.46,"de":9.9,"n":12.6},{"ra":266.37,"de":9.9,"n":13.5},{"ra":266.27,"de":9.9,"n":13.5},{"ra":266.17,"de":9.9,"n":14.4},{"ra":266.07,"de":9.9,"n":13.6},{"ra":265.98,"de":9.9,"n":13.3},{"ra":265.88,"de":9.9,"n":13.4},{"ra":265.78,"de":9.9,"n":13.6},{"ra":265.68,"de":9.9,"n":9.7},{"ra":265.59,"de":9.9,"n":7.8},{"ra":265.49,"de":9.9,"n":7},{"ra":265.39,"de":9.9,"n":6.9},{"ra":265.29,"de":9.9,"n":6.5},{"ra":265.2,"de":9.9,"n":6.6},{"ra":265.1,"de":9.9,"n":7.1},{"ra":265,"de":9.9,"n":7.3},{"ra":264.9,"de":9.9,"n":7.2},{"ra":264.8,"de":9.9,"n":7.6},{"ra":264.71,"de":9.9,"n":8.6},{"ra":264.61,"de":9.9,"n":10.5},{"ra":264.51,"de":9.9,"n":10.5},{"ra":264.41,"de":9.9,"n":8.2},{"ra":264.32,"de":9.9,"n":8.8},{"ra":264.22,"de":9.9,"n":10.1},{"ra":264.12,"de":9.9,"n":9.7},{"ra":264.02,"de":9.9,"n":12.8},{"ra":263.93,"de":9.9,"n":10.7},{"ra":263.83,"de":9.9,"n":10},{"ra":263.73,"de":9.9,"n":10.3},{"ra":263.63,"de":9.9,"n":11.2},{"ra":263.54,"de":9.9,"n":11.2},{"ra":263.44,"de":9.9,"n":9.6},{"ra":263.34,"de":9.9,"n":9.5},{"ra":263.24,"de":9.9,"n":10.5},{"ra":263.15,"de":9.9,"n":12},{"ra":263.05,"de":9.9,"n":9.9},
{"ra":266.95,"de":9.8,"n":10.7},{"ra":266.85,"de":9.8,"n":10.3},{"ra":266.76,"de":9.8,"n":12.2},{"ra":266.66,"de":9.8,"n":12.2},{"ra":266.56,"de":9.8,"n":11.5},{"ra":266.46,"de":9.8,"n":12.2},{"ra":266.37,"de":9.8,"n":12.5},{"ra":266.27,"de":9.8,"n":13},{"ra":266.17,"de":9.8,"n":16.8},{"ra":266.07,"de":9.8,"n":14.8},{"ra":265.98,"de":9.8,"n":15},{"ra":265.88,"de":9.8,"n":13.6},{"ra":265.78,"de":9.8,"n":13.4},{"ra":265.68,"de":9.8,"n":12.4},{"ra":265.59,"de":9.8,"n":8.5},{"ra":265.49,"de":9.8,"n":7.2},{"ra":265.39,"de":9.8,"n":6.5},{"ra":265.29,"de":9.8,"n":6.6},{"ra":265.2,"de":9.8,"n":6.5},{"ra":265.1,"de":9.8,"n":7},{"ra":265,"de":9.8,"n":6.9},{"ra":264.9,"de":9.8,"n":8.5},{"ra":264.8,"de":9.8,"n":8.5},{"ra":264.71,"de":9.8,"n":8.6},{"ra":264.61,"de":9.8,"n":10},{"ra":264.51,"de":9.8,"n":8},{"ra":264.41,"de":9.8,"n":7.7},{"ra":264.32,"de":9.8,"n":7.8},{"ra":264.22,"de":9.8,"n":8.5},{"ra":264.12,"de":9.8,"n":10.6},{"ra":264.02,"de":9.8,"n":13.2},{"ra":263.93,"de":9.8,"n":13.3},{"ra":263.83,"de":9.8,"n":11.5},{"ra":263.73,"de":9.8,"n":10.6},{"ra":263.63,"de":9.8,"n":9.9},{"ra":263.54,"de":9.8,"n":10.1},{"ra":263.44,"de":9.8,"n":10},{"ra":263.34,"de":9.8,"n":11.7},{"ra":263.24,"de":9.8,"n":11.7},{"ra":263.15,"de":9.8,"n":11.8},{"ra":263.05,"de":9.8,"n":11.8},
{"ra":266.95,"de":9.71,"n":9.7},{"ra":266.85,"de":9.71,"n":9.7},{"ra":266.76,"de":9.71,"n":10.6},{"ra":266.66,"de":9.71,"n":10.4},{"ra":266.56,"de":9.71,"n":10.5},{"ra":266.46,"de":9.71,"n":12},{"ra":266.37,"de":9.71,"n":12},{"ra":266.27,"de":9.71,"n":13.4},{"ra":266.17,"de":9.71,"n":16},{"ra":266.07,"de":9.71,"n":15.9},{"ra":265.98,"de":9.71,"n":17.8},{"ra":265.88,"de":9.71,"n":16.4},{"ra":265.78,"de":9.71,"n":14.2},{"ra":265.68,"de":9.71,"n":12.4},{"ra":265.59,"de":9.71,"n":9.8},{"ra":265.49,"de":9.71,"n":7.3},{"ra":265.39,"de":9.71,"n":7.1},{"ra":265.29,"de":9.71,"n":7.1},{"ra":265.2,"de":9.71,"n":7.1},{"ra":265.1,"de":9.71,"n":7.7},{"ra":265,"de":9.71,"n":7.3},{"ra":264.9,"de":9.71,"n":7.3},{"ra":264.8,"de":9.71,"n":8.3},{"ra":264.71,"de":9.71,"n":8.3},{"ra":264.61,"de":9.71,"n":8.5},{"ra":264.51,"de":9.71,"n":7.5},{"ra":264.41,"de":9.71,"n":7.2},{"ra":264.32,"de":9.71,"n":7.2},{"ra":264.22,"de":9.71,"n":7.3},{"ra":264.12,"de":9.71,"n":8.9},{"ra":264.02,"de":9.71,"n":9.6},{"ra":263.93,"de":9.71,"n":13.3},{"ra":263.83,"de":9.71,"n":11.6},{"ra":263.73,"de":9.71,"n":10.9},{"ra":263.63,"de":9.71,"n":9.4},{"ra":263.54,"de":9.71,"n":10.1},{"ra":263.44,"de":9.71,"n":10.1},{"ra":263.34,"de":9.71,"n":10.7},{"ra":263.24,"de":9.71,"n":11.7},{"ra":263.15,"de":9.71,"n":11},{"ra":263.05,"de":9.71,"n":11},
{"ra":266.95,"de":9.61,"n":10.6},{"ra":266.85,"de":9.61,"n":11.7},{"ra":266.76,"de":9.61,"n":11.7},{"ra":266.66,"de":9.61,"n":10.2},{"ra":266.56,"de":9.61,"n":10.9},{"ra":266.46,"de":9.61,"n":10.9},{"ra":266.37,"de":9.61,"n":11.9},{"ra":266.27,"de":9.61,"n":12.4},{"ra":266.17,"de":9.61,"n":15},{"ra":266.07,"de":9.61,"n":17.8},{"ra":265.98,"de":9.61,"n":17.9},{"ra":265.88,"de":9.61,"n":13.7},{"ra":265.78,"de":9.61,"n":12.6},{"ra":265.68,"de":9.61,"n":11.5},{"ra":265.59,"de":9.61,"n":11.5},{"ra":265.49,"de":9.61,"n":11},{"ra":265.39,"de":9.61,"n":10.4},{"ra":265.29,"de":9.61,"n":9.5},{"ra":265.2,"de":9.61,"n":7.8},{"ra":265.1,"de":9.61,"n":8.3},{"ra":265,"de":9.61,"n":8.1},{"ra":264.9,"de":9.61,"n":8.5},{"ra":264.8,"de":9.61,"n":8.4},{"ra":264.71,"de":9.61,"n":8.5},{"ra":264.61,"de":9.61,"n":8.6},{"ra":264.51,"de":9.61,"n":9.3},{"ra":264.41,"de":9.61,"n":7.7},{"ra":264.32,"de":9.61,"n":7.4},{"ra":264.22,"de":9.61,"n":8.3},{"ra":264.12,"de":9.61,"n":10},{"ra":264.02,"de":9.61,"n":8.2},{"ra":263.93,"de":9.61,"n":11.3},{"ra":263.83,"de":9.61,"n":11.4},{"ra":263.73,"de":9.61,"n":9.3},{"ra":263.63,"de":9.61,"n":9.4},{"ra":263.54,"de":9.61,"n":8.1},{"ra":263.44,"de":9.61,"n":10},{"ra":263.34,"de":9.61,"n":9.9},{"ra":263.24,"de":9.61,"n":11.9},{"ra":263.15,"de":9.61,"n":10.3},{"ra":263.05,"de":9.61,"n":9.9},
{"ra":266.95,"de":9.51,"n":12.2},{"ra":266.85,"de":9.51,"n":12},{"ra":266.76,"de":9.51,"n":12.3},{"ra":266.66,"de":9.51,"n":10.9},{"ra":266.56,"de":9.51,"n":11},{"ra":266.46,"de":9.51,"n":11.8},{"ra":266.37,"de":9.51,"n":12},{"ra":266.27,"de":9.51,"n":12.3},{"ra":266.17,"de":9.51,"n":13.6},{"ra":266.07,"de":9.51,"n":16.3},{"ra":265.98,"de":9.51,"n":16.3},{"ra":265.88,"de":9.51,"n":14.8},{"ra":265.78,"de":9.51,"n":14.4},{"ra":265.68,"de":9.51,"n":11.9},{"ra":265.59,"de":9.51,"n":11.8},{"ra":265.49,"de":9.51,"n":10.7},{"ra":265.39,"de":9.51,"n":10.7},{"ra":265.29,"de":9.51,"n":10.3},{"ra":265.2,"de":9.51,"n":8.6},{"ra":265.1,"de":9.51,"n":9.9},{"ra":265,"de":9.51,"n":9},{"ra":264.9,"de":9.51,"n":9.5},{"ra":264.8,"de":9.51,"n":8.2},{"ra":264.71,"de":9.51,"n":8.8},{"ra":264.61,"de":9.51,"n":9.4},{"ra":264.51,"de":9.51,"n":9.7},{"ra":264.41,"de":9.51,"n":8},{"ra":264.32,"de":9.51,"n":7.8},{"ra":264.22,"de":9.51,"n":8.5},{"ra":264.12,"de":9.51,"n":9.4},{"ra":264.02,"de":9.51,"n":9.3},{"ra":263.93,"de":9.51,"n":8.2},{"ra":263.83,"de":9.51,"n":8.2},{"ra":263.73,"de":9.51,"n":9},{"ra":263.63,"de":9.51,"n":8},{"ra":263.54,"de":9.51,"n":8},{"ra":263.44,"de":9.51,"n":8.6},{"ra":263.34,"de":9.51,"n":8.6},{"ra":263.24,"de":9.51,"n":8.6},{"ra":263.15,"de":9.51,"n":8.4},{"ra":263.05,"de":9.51,"n":9.6},
{"ra":266.95,"de":9.41,"n":12},{"ra":266.85,"de":9.41,"n":12},{"ra":266.76,"de":9.41,"n":11.9},{"ra":266.66,"de":9.41,"n":11.9},{"ra":266.56,"de":9.41,"n":10.7},{"ra":266.46,"de":9.41,"n":11.9},{"ra":266.37,"de":9.41,"n":10.1},{"ra":266.27,"de":9.41,"n":11},{"ra":266.17,"de":9.41,"n":11.8},{"ra":266.07,"de":9.41,"n":12.9},{"ra":265.98,"de":9.41,"n":12.9},{"ra":265.88,"de":9.41,"n":15.6},{"ra":265.78,"de":9.41,"n":14.2},{"ra":265.68,"de":9.41,"n":13.6},{"ra":265.59,"de":9.41,"n":11.8},{"ra":265.49,"de":9.41,"n":12.4},{"ra":265.39,"de":9.41,"n":11.5},{"ra":265.29,"de":9.41,"n":11.9},{"ra":265.2,"de":9.41,"n":11.9},{"ra":265.1,"de":9.41,"n":10.2},{"ra":265,"de":9.41,"n":10.7},{"ra":264.9,"de":9.41,"n":9.7},{"ra":264.8,"de":9.41,"n":10.6},{"ra":264.71,"de":9.41,"n":9.6},{"ra":264.61,"de":9.41,"n":11.2},{"ra":264.51,"de":9.41,"n":9.8},{"ra":264.41,"de":9.41,"n":9.6},{"ra":264.32,"de":9.41,"n":8.7},{"ra":264.22,"de":9.41,"n":8.1},{"ra":264.12,"de":9.41,"n":9.3},{"ra":264.02,"de":9.41,"n":9.3},{"ra":263.93,"de":9.41,"n":12.2},{"ra":263.83,"de":9.41,"n":10.7},{"ra":263.73,"de":9.41,"n":11.4},{"ra":263.63,"de":9.41,"n":9.5},{"ra":263.54,"de":9.41,"n":9.3},{"ra":263.44,"de":9.41,"n":8.5},{"ra":263.34,"de":9.41,"n":10.7},{"ra":263.24,"de":9.41,"n":8},{"ra":263.15,"de":9.41,"n":7.5},{"ra":263.05,"de":9.41,"n":7.5},
{"ra":266.95,"de":9.32,"n":10.1},{"ra":266.85,"de":9.32,"n":10.8},{"ra":266.76,"de":9.32,"n":12},{"ra":266.66,"de":9.32,"n":12},{"ra":266.56,"de":9.32,"n":10.4},{"ra":266.46,"de":9.32,"n":10.2},{"ra":266.37,"de":9.32,"n":9.3},{"ra":266.27,"de":9.32,"n":9.2},{"ra":266.17,"de":9.32,"n":9.9},{"ra":266.07,"de":9.32,"n":11.6},{"ra":265.98,"de":9.32,"n":11.8},{"ra":265.88,"de":9.32,"n":13.5},{"ra":265.78,"de":9.32,"n":14.2},{"ra":265.68,"de":9.32,"n":15},{"ra":265.59,"de":9.32,"n":15},{"ra":265.49,"de":9.32,"n":14},{"ra":265.39,"de":9.32,"n":12.3},{"ra":265.29,"de":9.32,"n":13},{"ra":265.2,"de":9.32,"n":14.4},{"ra":265.1,"de":9.32,"n":13},{"ra":265,"de":9.32,"n":15.6},{"ra":264.9,"de":9.32,"n":13.3},{"ra":264.8,"de":9.32,"n":12.4},{"ra":264.71,"de":9.32,"n":11.4},{"ra":264.61,"de":9.32,"n":9.5},{"ra":264.51,"de":9.32,"n":9.7},{"ra":264.41,"de":9.32,"n":9.6},{"ra":264.32,"de":9.32,"n":8.8},{"ra":264.22,"de":9.32,"n":8.8},{"ra":264.12,"de":9.32,"n":8.8},{"ra":264.02,"de":9.32,"n":9.2},{"ra":263.93,"de":9.32,"n":12.5},{"ra":263.83,"de":9.32,"n":13},{"ra":263.73,"de":9.32,"n":10.7},{"ra":263.63,"de":9.32,"n":10.4},{"ra":263.54,"de":9.32,"n":10.2},{"ra":263.44,"de":9.32,"n":9.6},{"ra":263.34,"de":9.32,"n":9},{"ra":263.24,"de":9.32,"n":9},{"ra":263.15,"de":9.32,"n":7.4},{"ra":263.05,"de":9.32,"n":7.8},
{"ra":266.95,"de":9.22,"n":10.1},{"ra":266.85,"de":9.22,"n":12.2},{"ra":266.76,"de":9.22,"n":12.8},{"ra":266.66,"de":9.22,"n":11.6},{"ra":266.56,"de":9.22,"n":10.4},{"ra":266.46,"de":9.22,"n":10.6},{"ra":266.37,"de":9.22,"n":10.3},{"ra":266.27,"de":9.22,"n":10.3},{"ra":266.17,"de":9.22,"n":9.4},{"ra":266.07,"de":9.22,"n":9.5},{"ra":265.98,"de":9.22,"n":11},{"ra":265.88,"de":9.22,"n":13.2},{"ra":265.78,"de":9.22,"n":14.2},{"ra":265.68,"de":9.22,"n":16.4},{"ra":265.59,"de":9.22,"n":15},{"ra":265.49,"de":9.22,"n":14.4},{"ra":265.39,"de":9.22,"n":14.4},{"ra":265.29,"de":9.22,"n":13},{"ra":265.2,"de":9.22,"n":15.8},{"ra":265.1,"de":9.22,"n":15.2},{"ra":265,"de":9.22,"n":13.7},{"ra":264.9,"de":9.22,"n":12.5},{"ra":264.8,"de":9.22,"n":8.7},{"ra":264.71,"de":9.22,"n":9},{"ra":264.61,"de":9.22,"n":9.5},{"ra":264.51,"de":9.22,"n":9.5},{"ra":264.41,"de":9.22,"n":9.5},{"ra":264.32,"de":9.22,"n":8.3},{"ra":264.22,"de":9.22,"n":9.2},{"ra":264.12,"de":9.22,"n":9.2},{"ra":264.02,"de":9.22,"n":11.4},{"ra":263.93,"de":9.22,"n":12.5},{"ra":263.83,"de":9.22,"n":12.5},{"ra":263.73,"de":9.22,"n":12.3},{"ra":263.63,"de":9.22,"n":11.1},{"ra":263.54,"de":9.22,"n":11},{"ra":263.44,"de":9.22,"n":10.7},{"ra":263.34,"de":9.22,"n":9.2},{"ra":263.24,"de":9.22,"n":7.7},{"ra":263.15,"de":9.22,"n":7.6},{"ra":263.05,"de":9.22,"n":6.8},
{"ra":266.95,"de":9.12,"n":10.8},{"ra":266.85,"de":9.12,"n":11.7},{"ra":266.76,"de":9.12,"n":11.9},{"ra":266.66,"de":9.12,"n":12},{"ra":266.56,"de":9.12,"n":12.3},{"ra":266.46,"de":9.12,"n":10.8},{"ra":266.37,"de":9.12,"n":10.5},{"ra":266.27,"de":9.12,"n":9.4},{"ra":266.17,"de":9.12,"n":9.4},{"ra":266.07,"de":9.12,"n":10.7},{"ra":265.98,"de":9.12,"n":11.9},{"ra":265.88,"de":9.12,"n":14.3},{"ra":265.78,"de":9.12,"n":14.4},{"ra":265.68,"de":9.12,"n":16},{"ra":265.59,"de":9.12,"n":15},{"ra":265.49,"de":9.12,"n":16.8},{"ra":265.39,"de":9.12,"n":15},{"ra":265.29,"de":9.12,"n":15},{"ra":265.2,"de":9.12,"n":17.8},{"ra":265.1,"de":9.12,"n":17},{"ra":265,"de":9.12,"n":11.5},{"ra":264.9,"de":9.12,"n":11.4},{"ra":264.8,"de":9.12,"n":7.5},{"ra":264.71,"de":9.12,"n":8.4},{"ra":264.61,"de":9.12,"n":7.6},{"ra":264.51,"de":9.12,"n":8.8},{"ra":264.41,"de":9.12,"n":9.2},{"ra":264.32,"de":9.12,"n":9.1},{"ra":264.22,"de":9.12,"n":9.1},{"ra":264.12,"de":9.12,"n":12.3},{"ra":264.02,"de":9.12,"n":12.5},{"ra":263.93,"de":9.12,"n":13.7},{"ra":263.83,"de":9.12,"n":13.7},{"ra":263.73,"de":9.12,"n":12.6},{"ra":263.63,"de":9.12,"n":12.4},{"ra":263.54,"de":9.12,"n":10.9},{"ra":263.44,"de":9.12,"n":11.6},{"ra":263.34,"de":9.12,"n":9},{"ra":263.24,"de":9.12,"n":7.6},{"ra":263.15,"de":9.12,"n":7.6},{"ra":263.05,"de":9.12,"n":7.2},
{"ra":266.95,"de":9.02,"n":12.2},{"ra":266.85,"de":9.02,"n":11.5},{"ra":266.76,"de":9.02,"n":10.7},{"ra":266.66,"de":9.02,"n":12.3},{"ra":266.56,"de":9.02,"n":12.2},{"ra":266.46,"de":9.02,"n":10.8},{"ra":266.37,"de":9.02,"n":10.1},{"ra":266.27,"de":9.02,"n":8.9},{"ra":266.17,"de":9.02,"n":8.9},{"ra":266.07,"de":9.02,"n":9.9},{"ra":265.98,"de":9.02,"n":11.5},{"ra":265.88,"de":9.02,"n":13.5},{"ra":265.78,"de":9.02,"n":15.6},{"ra":265.68,"de":9.02,"n":13},{"ra":265.59,"de":9.02,"n":14.6},{"ra":265.49,"de":9.02,"n":16.8},{"ra":265.39,"de":9.02,"n":15.3},{"ra":265.29,"de":9.02,"n":15.4},{"ra":265.2,"de":9.02,"n":13},{"ra":265.1,"de":9.02,"n":13.6},{"ra":265,"de":9.02,"n":9},{"ra":264.9,"de":9.02,"n":8},{"ra":264.8,"de":9.02,"n":7.1},{"ra":264.71,"de":9.02,"n":8.2},{"ra":264.61,"de":9.02,"n":8.2},{"ra":264.51,"de":9.02,"n":8.6},{"ra":264.41,"de":9.02,"n":9.2},{"ra":264.32,"de":9.02,"n":9.3},{"ra":264.22,"de":9.02,"n":10.4},{"ra":264.12,"de":9.02,"n":12.4},{"ra":264.02,"de":9.02,"n":13.4},{"ra":263.93,"de":9.02,"n":14.8},{"ra":263.83,"de":9.02,"n":13.4},{"ra":263.73,"de":9.02,"n":14.8},{"ra":263.63,"de":9.02,"n":13},{"ra":263.54,"de":9.02,"n":11.2},{"ra":263.44,"de":9.02,"n":11.2},{"ra":263.34,"de":9.02,"n":8.2},{"ra":263.24,"de":9.02,"n":7.6},{"ra":263.15,"de":9.02,"n":7.1},{"ra":263.05,"de":9.02,"n":7.1},
{"ra":266.95,"de":8.93,"n":13.2},{"ra":266.85,"de":8.93,"n":12.4},{"ra":266.76,"de":8.93,"n":11.5},{"ra":266.66,"de":8.93,"n":12.3},{"ra":266.56,"de":8.93,"n":12.3},{"ra":266.46,"de":8.93,"n":12.4},{"ra":266.37,"de":8.93,"n":11.6},{"ra":266.27,"de":8.93,"n":8.2},{"ra":266.17,"de":8.93,"n":9.3},{"ra":266.07,"de":8.93,"n":9.9},{"ra":265.98,"de":8.93,"n":12.8},{"ra":265.88,"de":8.93,"n":11.1},{"ra":265.78,"de":8.93,"n":11.1},{"ra":265.68,"de":8.93,"n":11},{"ra":265.59,"de":8.93,"n":11.3},{"ra":265.49,"de":8.93,"n":13},{"ra":265.39,"de":8.93,"n":11},{"ra":265.29,"de":8.93,"n":12.9},{"ra":265.2,"de":8.93,"n":10.4},{"ra":265.1,"de":8.93,"n":9.8},{"ra":265,"de":8.93,"n":8.1},{"ra":264.9,"de":8.93,"n":7.3},{"ra":264.8,"de":8.93,"n":7.5},{"ra":264.71,"de":8.93,"n":7.5},{"ra":264.61,"de":8.93,"n":7.8},{"ra":264.51,"de":8.93,"n":8.1},{"ra":264.41,"de":8.93,"n":9.2},{"ra":264.32,"de":8.93,"n":10.1},{"ra":264.22,"de":8.93,"n":11.8},{"ra":264.12,"de":8.93,"n":12.9},{"ra":264.02,"de":8.93,"n":16.4},{"ra":263.93,"de":8.93,"n":14.4},{"ra":263.83,"de":8.93,"n":14.4},{"ra":263.73,"de":8.93,"n":12.5},{"ra":263.63,"de":8.93,"n":15},{"ra":263.54,"de":8.93,"n":13.4},{"ra":263.44,"de":8.93,"n":10.3},{"ra":263.34,"de":8.93,"n":8.1},{"ra":263.24,"de":8.93,"n":7.7},{"ra":263.15,"de":8.93,"n":7.2},{"ra":263.05,"de":8.93,"n":7.4},
{"ra":266.95,"de":8.83,"n":13.7},{"ra":266.85,"de":8.83,"n":14.3},{"ra":266.76,"de":8.83,"n":13.6},{"ra":266.66,"de":8.83,"n":11.7},{"ra":266.56,"de":8.83,"n":12.8},{"ra":266.46,"de":8.83,"n":11.3},{"ra":266.37,"de":8.83,"n":10.6},{"ra":266.27,"de":8.83,"n":9.3},{"ra":266.17,"de":8.83,"n":9.8},{"ra":266.07,"de":8.83,"n":9.6},{"ra":265.98,"de":8.83,"n":9.6},{"ra":265.88,"de":8.83,"n":9.7},{"ra":265.78,"de":8.83,"n":9.5},{"ra":265.68,"de":8.83,"n":9.1},{"ra":265.59,"de":8.83,"n":10.9},{"ra":265.49,"de":8.83,"n":11.8},{"ra":265.39,"de":8.83,"n":8.8},{"ra":265.29,"de":8.83,"n":8.8},{"ra":265.2,"de":8.83,"n":8.8},{"ra":265.1,"de":8.83,"n":8.8},{"ra":265,"de":8.83,"n":8.3},{"ra":264.9,"de":8.83,"n":8.1},{"ra":264.8,"de":8.83,"n":8.3},{"ra":264.71,"de":8.83,"n":8.1},{"ra":264.61,"de":8.83,"n":8.2},{"ra":264.51,"de":8.83,"n":9},{"ra":264.41,"de":8.83,"n":9.5},{"ra":264.32,"de":8.83,"n":11.6},{"ra":264.22,"de":8.83,"n":11.6},{"ra":264.12,"de":8.83,"n":12.5},{"ra":264.02,"de":8.83,"n":13.2},{"ra":263.93,"de":8.83,"n":15.8},{"ra":263.83,"de":8.83,"n":15.8},{"ra":263.73,"de":8.83,"n":12.5},{"ra":263.63,"de":8.83,"n":16.8},{"ra":263.54,"de":8.83,"n":8.7},{"ra":263.44,"de":8.83,"n":9.2},{"ra":263.34,"de":8.83,"n":9.3},{"ra":263.24,"de":8.83,"n":8.1},{"ra":263.15,"de":8.83,"n":8},{"ra":263.05,"de":8.83,"n":7.5},
{"ra":266.95,"de":8.73,"n":13.7},{"ra":266.85,"de":8.73,"n":14.3},{"ra":266.76,"de":8.73,"n":13.7},{"ra":266.66,"de":8.73,"n":13.4},{"ra":266.56,"de":8.73,"n":12.9},{"ra":266.46,"de":8.73,"n":10.6},{"ra":266.37,"de":8.73,"n":10.5},{"ra":266.27,"de":8.73,"n":9.3},{"ra":266.17,"de":8.73,"n":9.4},{"ra":266.07,"de":8.73,"n":9.9},{"ra":265.98,"de":8.73,"n":9},{"ra":265.88,"de":8.73,"n":8.9},{"ra":265.78,"de":8.73,"n":9.2},{"ra":265.68,"de":8.73,"n":8.8},{"ra":265.59,"de":8.73,"n":10},{"ra":265.49,"de":8.73,"n":10},{"ra":265.39,"de":8.73,"n":8.6},{"ra":265.29,"de":8.73,"n":8.6},{"ra":265.2,"de":8.73,"n":8.5},{"ra":265.1,"de":8.73,"n":8.2},{"ra":265,"de":8.73,"n":9.8},{"ra":264.9,"de":8.73,"n":9.1},{"ra":264.8,"de":8.73,"n":9.2},{"ra":264.71,"de":8.73,"n":9},{"ra":264.61,"de":8.73,"n":9},{"ra":264.51,"de":8.73,"n":9},{"ra":264.41,"de":8.73,"n":8.7},{"ra":264.32,"de":8.73,"n":8.6},{"ra":264.22,"de":8.73,"n":10.4},{"ra":264.12,"de":8.73,"n":11.5},{"ra":264.02,"de":8.73,"n":14.6},{"ra":263.93,"de":8.73,"n":16.6},{"ra":263.83,"de":8.73,"n":15.8},{"ra":263.73,"de":8.73,"n":14.4},{"ra":263.63,"de":8.73,"n":11.8},{"ra":263.54,"de":8.73,"n":8.8},{"ra":263.44,"de":8.73,"n":8.8},{"ra":263.34,"de":8.73,"n":9.4},{"ra":263.24,"de":8.73,"n":8},{"ra":263.15,"de":8.73,"n":7.7},{"ra":263.05,"de":8.73,"n":7.1},
{"ra":266.95,"de":8.63,"n":13.2},{"ra":266.85,"de":8.63,"n":12.7},{"ra":266.76,"de":8.63,"n":12.7},{"ra":266.66,"de":8.63,"n":13.2},{"ra":266.56,"de":8.63,"n":13.2},{"ra":266.46,"de":8.63,"n":11},{"ra":266.37,"de":8.63,"n":9.8},{"ra":266.27,"de":8.63,"n":9.4},{"ra":266.17,"de":8.63,"n":9.5},{"ra":266.07,"de":8.63,"n":8.5},{"ra":265.98,"de":8.63,"n":8.5},{"ra":265.88,"de":8.63,"n":8.5},{"ra":265.78,"de":8.63,"n":7.6},{"ra":265.68,"de":8.63,"n":8.3},{"ra":265.59,"de":8.63,"n":8.3},{"ra":265.49,"de":8.63,"n":9},{"ra":265.39,"de":8.63,"n":8.7},{"ra":265.29,"de":8.63,"n":8.6},{"ra":265.2,"de":8.63,"n":8.6},{"ra":265.1,"de":8.63,"n":9.5},{"ra":265,"de":8.63,"n":9.9},{"ra":264.9,"de":8.63,"n":11},{"ra":264.8,"de":8.63,"n":9.6},{"ra":264.71,"de":8.63,"n":9.3},{"ra":264.61,"de":8.63,"n":9.3},{"ra":264.51,"de":8.63,"n":8.1},{"ra":264.41,"de":8.63,"n":7.7},{"ra":264.32,"de":8.63,"n":8},{"ra":264.22,"de":8.63,"n":9.2},{"ra":264.12,"de":8.63,"n":9.6},{"ra":264.02,"de":8.63,"n":12},{"ra":263.93,"de":8.63,"n":12.9},{"ra":263.83,"de":8.63,"n":15},{"ra":263.73,"de":8.63,"n":12.4},{"ra":263.63,"de":8.63,"n":11.2},{"ra":263.54,"de":8.63,"n":9.3},{"ra":263.44,"de":8.63,"n":9.4},{"ra":263.34,"de":8.63,"n":9.5},{"ra":263.24,"de":8.63,"n":9.3},{"ra":263.15,"de":8.63,"n":7.8},{"ra":263.05,"de":8.63,"n":7.1},
{"ra":266.95,"de":8.54,"n":12.3},{"ra":266.85,"de":8.54,"n":11.2},{"ra":266.76,"de":8.54,"n":11.8},{"ra":266.66,"de":8.54,"n":11.8},{"ra":266.56,"de":8.54,"n":11.7},{"ra":266.46,"de":8.54,"n":9.5},{"ra":266.37,"de":8.54,"n":9.5},{"ra":266.27,"de":8.54,"n":8.6},{"ra":266.17,"de":8.54,"n":9.1},{"ra":266.07,"de":8.54,"n":8.6},{"ra":265.98,"de":8.54,"n":7.5},{"ra":265.88,"de":8.54,"n":7.3},{"ra":265.78,"de":8.54,"n":7.3},{"ra":265.68,"de":8.54,"n":7.4},{"ra":265.59,"de":8.54,"n":8.4},{"ra":265.49,"de":8.54,"n":9.2},{"ra":265.39,"de":8.54,"n":8.5},{"ra":265.29,"de":8.54,"n":8.5},{"ra":265.2,"de":8.54,"n":8.1},{"ra":265.1,"de":8.54,"n":9.5},{"ra":265,"de":8.54,"n":10.8},{"ra":264.9,"de":8.54,"n":10.3},{"ra":264.8,"de":8.54,"n":9.5},{"ra":264.71,"de":8.54,"n":8.9},{"ra":264.61,"de":8.54,"n":9.4},{"ra":264.51,"de":8.54,"n":8.8},{"ra":264.41,"de":8.54,"n":8.2},{"ra":264.32,"de":8.54,"n":8.2},{"ra":264.22,"de":8.54,"n":8.2},{"ra":264.12,"de":8.54,"n":10},{"ra":264.02,"de":8.54,"n":11.4},{"ra":263.93,"de":8.54,"n":11.8},{"ra":263.83,"de":8.54,"n":12.4},{"ra":263.73,"de":8.54,"n":10.7},{"ra":263.63,"de":8.54,"n":10.6},{"ra":263.54,"de":8.54,"n":10.2},{"ra":263.44,"de":8.54,"n":10.4},{"ra":263.34,"de":8.54,"n":9.5},{"ra":263.24,"de":8.54,"n":9.2},{"ra":263.15,"de":8.54,"n":8.1},{"ra":263.05,"de":8.54,"n":7.2},
{"ra":266.95,"de":8.44,"n":11.7},{"ra":266.85,"de":8.44,"n":11.1},{"ra":266.76,"de":8.44,"n":11.9},{"ra":266.66,"de":8.44,"n":11.9},{"ra":266.56,"de":8.44,"n":10.7},{"ra":266.46,"de":8.44,"n":10.8},{"ra":266.37,"de":8.44,"n":9.2},{"ra":266.27,"de":8.44,"n":8.6},{"ra":266.17,"de":8.44,"n":8.5},{"ra":266.07,"de":8.44,"n":8.4},{"ra":265.98,"de":8.44,"n":7.5},{"ra":265.88,"de":8.44,"n":7.3},{"ra":265.78,"de":8.44,"n":7.2},{"ra":265.68,"de":8.44,"n":7.1},{"ra":265.59,"de":8.44,"n":7.6},{"ra":265.49,"de":8.44,"n":9.2},{"ra":265.39,"de":8.44,"n":7.7},{"ra":265.29,"de":8.44,"n":8.1},{"ra":265.2,"de":8.44,"n":8.3},{"ra":265.1,"de":8.44,"n":9.7},{"ra":265,"de":8.44,"n":11},{"ra":264.9,"de":8.44,"n":11.2},{"ra":264.8,"de":8.44,"n":10},{"ra":264.71,"de":8.44,"n":8.9},{"ra":264.61,"de":8.44,"n":9.6},{"ra":264.51,"de":8.44,"n":8.8},{"ra":264.41,"de":8.44,"n":7.8},{"ra":264.32,"de":8.44,"n":8.2},{"ra":264.22,"de":8.44,"n":7.8},{"ra":264.12,"de":8.44,"n":8},{"ra":264.02,"de":8.44,"n":8},{"ra":263.93,"de":8.44,"n":9.5},{"ra":263.83,"de":8.44,"n":12.4},{"ra":263.73,"de":8.44,"n":11.4},{"ra":263.63,"de":8.44,"n":12.8},{"ra":263.54,"de":8.44,"n":11.8},{"ra":263.44,"de":8.44,"n":10.2},{"ra":263.34,"de":8.44,"n":9.9},{"ra":263.24,"de":8.44,"n":8.2},{"ra":263.15,"de":8.44,"n":8},{"ra":263.05,"de":8.44,"n":7},
{"ra":266.95,"de":8.34,"n":12.7},{"ra":266.85,"de":8.34,"n":11.8},{"ra":266.76,"de":8.34,"n":12.5},{"ra":266.66,"de":8.34,"n":10.6},{"ra":266.56,"de":8.34,"n":10.2},{"ra":266.46,"de":8.34,"n":9.2},{"ra":266.37,"de":8.34,"n":8.3},{"ra":266.27,"de":8.34,"n":9.4},{"ra":266.17,"de":8.34,"n":9.5},{"ra":266.07,"de":8.34,"n":8.3},{"ra":265.98,"de":8.34,"n":8.3},{"ra":265.88,"de":8.34,"n":7.6},{"ra":265.78,"de":8.34,"n":7.2},{"ra":265.68,"de":8.34,"n":7.2},{"ra":265.59,"de":8.34,"n":7.1},{"ra":265.49,"de":8.34,"n":7.7},{"ra":265.39,"de":8.34,"n":7.7},{"ra":265.29,"de":8.34,"n":7.8},{"ra":265.2,"de":8.34,"n":7.2},{"ra":265.1,"de":8.34,"n":7.7},{"ra":265,"de":8.34,"n":9.7},{"ra":264.9,"de":8.34,"n":9.8},{"ra":264.8,"de":8.34,"n":10.1},{"ra":264.71,"de":8.34,"n":8.8},{"ra":264.61,"de":8.34,"n":10.2},{"ra":264.51,"de":8.34,"n":8.6},{"ra":264.41,"de":8.34,"n":8.5},{"ra":264.32,"de":8.34,"n":8.3},{"ra":264.22,"de":8.34,"n":8},{"ra":264.12,"de":8.34,"n":7.9},{"ra":264.02,"de":8.34,"n":7.8},{"ra":263.93,"de":8.34,"n":9.8},{"ra":263.83,"de":8.34,"n":11.9},{"ra":263.73,"de":8.34,"n":12.5},{"ra":263.63,"de":8.34,"n":14.4},{"ra":263.54,"de":8.34,"n":14.4},{"ra":263.44,"de":8.34,"n":14.4},{"ra":263.34,"de":8.34,"n":11.8},{"ra":263.24,"de":8.34,"n":9.6},{"ra":263.15,"de":8.34,"n":8},{"ra":263.05,"de":8.34,"n":7.3},
{"ra":266.95,"de":8.24,"n":12.8},{"ra":266.85,"de":8.24,"n":11.8},{"ra":266.76,"de":8.24,"n":12.4},{"ra":266.66,"de":8.24,"n":10.6},{"ra":266.56,"de":8.24,"n":10.6},{"ra":266.46,"de":8.24,"n":12},{"ra":266.37,"de":8.24,"n":8.5},{"ra":266.27,"de":8.24,"n":8.6},{"ra":266.17,"de":8.24,"n":8.7},{"ra":266.07,"de":8.24,"n":8},{"ra":265.98,"de":8.24,"n":8.3},{"ra":265.88,"de":8.24,"n":8},{"ra":265.78,"de":8.24,"n":7.1},{"ra":265.68,"de":8.24,"n":7.1},{"ra":265.59,"de":8.24,"n":7},{"ra":265.49,"de":8.24,"n":7.4},{"ra":265.39,"de":8.24,"n":7.3},{"ra":265.29,"de":8.24,"n":7.3},{"ra":265.2,"de":8.24,"n":7.4},{"ra":265.1,"de":8.24,"n":7.5},{"ra":265,"de":8.24,"n":8.3},{"ra":264.9,"de":8.24,"n":9.3},{"ra":264.8,"de":8.24,"n":9.2},{"ra":264.71,"de":8.24,"n":8.3},{"ra":264.61,"de":8.24,"n":8.5},{"ra":264.51,"de":8.24,"n":8},{"ra":264.41,"de":8.24,"n":8.1},{"ra":264.32,"de":8.24,"n":7.7},{"ra":264.22,"de":8.24,"n":7.7},{"ra":264.12,"de":8.24,"n":8.7},{"ra":264.02,"de":8.24,"n":8.7},{"ra":263.93,"de":8.24,"n":8.9},{"ra":263.83,"de":8.24,"n":11.4},{"ra":263.73,"de":8.24,"n":12.6},{"ra":263.63,"de":8.24,"n":15},{"ra":263.54,"de":8.24,"n":16.8},{"ra":263.44,"de":8.24,"n":13.6},{"ra":263.34,"de":8.24,"n":13.2},{"ra":263.24,"de":8.24,"n":9.6},{"ra":263.15,"de":8.24,"n":8.3},{"ra":263.05,"de":8.24,"n":8.3},
{"ra":266.95,"de":8.15,"n":13},{"ra":266.85,"de":8.15,"n":12.6},{"ra":266.76,"de":8.15,"n":11.6},{"ra":266.66,"de":8.15,"n":10.2},{"ra":266.56,"de":8.15,"n":10.8},{"ra":266.46,"de":8.15,"n":11.8},{"ra":266.37,"de":8.15,"n":10.4},{"ra":266.27,"de":8.15,"n":9.2},{"ra":266.17,"de":8.15,"n":9.2},{"ra":266.07,"de":8.15,"n":9.2},{"ra":265.98,"de":8.15,"n":9.4},{"ra":265.88,"de":8.15,"n":9.4},{"ra":265.78,"de":8.15,"n":10.1},{"ra":265.68,"de":8.15,"n":7.8},{"ra":265.59,"de":8.15,"n":8},{"ra":265.49,"de":8.15,"n":7.7},{"ra":265.39,"de":8.15,"n":7.2},{"ra":265.29,"de":8.15,"n":7},{"ra":265.2,"de":8.15,"n":7},{"ra":265.1,"de":8.15,"n":7.1},{"ra":265,"de":8.15,"n":7.2},{"ra":264.9,"de":8.15,"n":7.9},{"ra":264.8,"de":8.15,"n":8.3},{"ra":264.71,"de":8.15,"n":7.7},{"ra":264.61,"de":8.15,"n":8.4},{"ra":264.51,"de":8.15,"n":7.7},{"ra":264.41,"de":8.15,"n":7.6},{"ra":264.32,"de":8.15,"n":7.4},{"ra":264.22,"de":8.15,"n":7.8},{"ra":264.12,"de":8.15,"n":8},{"ra":264.02,"de":8.15,"n":9},{"ra":263.93,"de":8.15,"n":9.6},{"ra":263.83,"de":8.15,"n":12.8},{"ra":263.73,"de":8.15,"n":14.6},{"ra":263.63,"de":8.15,"n":16.4},{"ra":263.54,"de":8.15,"n":15},{"ra":263.44,"de":8.15,"n":13},{"ra":263.34,"de":8.15,"n":12.9},{"ra":263.24,"de":8.15,"n":10.4},{"ra":263.15,"de":8.15,"n":9.7},{"ra":263.05,"de":8.15,"n":8.9},
{"ra":266.95,"de":8.05,"n":13.8},{"ra":266.85,"de":8.05,"n":12.6},{"ra":266.76,"de":8.05,"n":9.9},{"ra":266.66,"de":8.05,"n":9.9},{"ra":266.56,"de":8.05,"n":8.9},{"ra":266.46,"de":8.05,"n":8.9},{"ra":266.37,"de":8.05,"n":9.2},{"ra":266.27,"de":8.05,"n":10.3},{"ra":266.17,"de":8.05,"n":9.8},{"ra":266.07,"de":8.05,"n":9.7},{"ra":265.98,"de":8.05,"n":9.3},{"ra":265.88,"de":8.05,"n":9.4},{"ra":265.78,"de":8.05,"n":10},{"ra":265.68,"de":8.05,"n":8.3},{"ra":265.59,"de":8.05,"n":7.4},{"ra":265.49,"de":8.05,"n":8.4},{"ra":265.39,"de":8.05,"n":7.4},{"ra":265.29,"de":8.05,"n":7.2},{"ra":265.2,"de":8.05,"n":7.1},{"ra":265.1,"de":8.05,"n":7.1},{"ra":265,"de":8.05,"n":7.2},{"ra":264.9,"de":8.05,"n":7.9},{"ra":264.8,"de":8.05,"n":7.4},{"ra":264.71,"de":8.05,"n":7.2},{"ra":264.61,"de":8.05,"n":7.5},{"ra":264.51,"de":8.05,"n":8.6},{"ra":264.41,"de":8.05,"n":7.2},{"ra":264.32,"de":8.05,"n":7.8},{"ra":264.22,"de":8.05,"n":7.7},{"ra":264.12,"de":8.05,"n":8},{"ra":264.02,"de":8.05,"n":9},{"ra":263.93,"de":8.05,"n":10.7},{"ra":263.83,"de":8.05,"n":12},{"ra":263.73,"de":8.05,"n":15.6},{"ra":263.63,"de":8.05,"n":17},{"ra":263.54,"de":8.05,"n":15.6},{"ra":263.44,"de":8.05,"n":12.6},{"ra":263.34,"de":8.05,"n":11},{"ra":263.24,"de":8.05,"n":10.2},{"ra":263.15,"de":8.05,"n":10},{"ra":263.05,"de":8.05,"n":9.9}
]},"mark":{"type":"rect","width":16,"height":16,"clip":true},"encoding":{"x":{"field":"ra","type":"quantitative","scale":{"domain":[267,263],"nice":false,"zero":false},"axis":{"values":[267,266.5,266,265.5,265,264.5,264,263.5,263],"format":".1f","title":"R.A. [degrees]","titlePadding":6,"labelPadding":5}},"y":{"field":"de","type":"quantitative","scale":{"domain":[8,12],"nice":false,"zero":false},"axis":{"values":[8,8.5,9,9.5,10,10.5,11,11.5,12],"format":".1f","title":"Decl. [degrees]","titlePadding":10,"labelPadding":3}},"color":{"field":"n","type":"quantitative","legend":null,"scale":{"type":"log","domain":[5,6.85,8.7,10.82,17.9,20],"range":["#000000","#0000ff","#8700ff","#ff46b9","#ffff00","#ffffff"],"interpolate":"rgb"}}}},{"data":{"values":[{"ra":265.03,"de":9.82,"label":"1LHAASO J1740+0948u","lra":265.03,"lde":10.06}]},"layer":[{"mark":{"type":"point","shape":"M-1,0L1,0M0,-1L0,1","filled":false,"stroke":"white","strokeWidth":1.6,"size":169,"opacity":1},"encoding":{"x":{"field":"ra","type":"quantitative"},"y":{"field":"de","type":"quantitative"}}},{"mark":{"type":"text","color":"white","align":"left","baseline":"middle","fontSize":13,"font":"DejaVu Sans"},"encoding":{"x":{"field":"lra","type":"quantitative"},"y":{"field":"lde","type":"quantitative"},"text":{"field":"label"}}}]}]},{"width":28,"height":586,"data":{"values":[{"lo":5,"hi":20}]},"mark":{"type":"rect","color":{"gradient":"linear","x1":0,"x2":0,"y1":1,"y2":0,"stops":[{"offset":0,"color":"#000000"},{"offset":0.25,"color":"#0000ff"},{"offset":0.42,"color":"#8700ff"},{"offset":0.5566,"color":"#ff46b9"},{"offset":0.92,"color":"#ffff00"},{"offset":1,"color":"#ffffff"}]}},"encoding":{"y":{"field":"lo","type":"quantitative","scale":{"type":"log","domain":[5,20],"nice":false},"axis":{"orient":"right","values":[6,7,8,9,10,20],"labelExpr":"datum.value==6?'6 × 10²⁰':datum.value==10?'10²¹':datum.value==20?'2 × 10²¹':''","title":"𝑁ₕ","titleFontSize":19,"titleAngle":270,"titlePadding":24,"labelPadding":5,"labelFontSize":12.5}},"y2":{"field":"hi"}}}]}
